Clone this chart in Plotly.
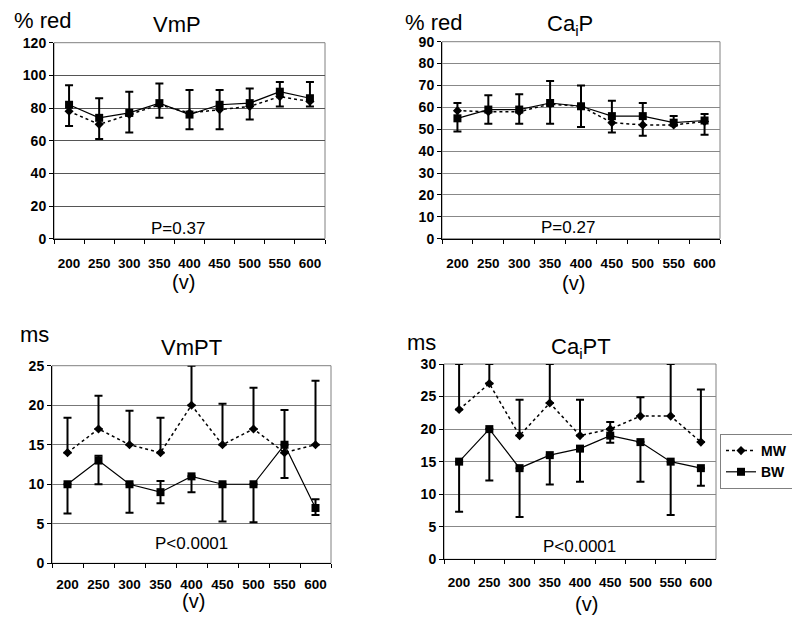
import plotly.graph_objects as go

volts = ["200", "250", "300", "350", "400", "450", "500", "550", "600"]

# Panel 1: VmP (% red)
vmp_mw = [78, 70, 76, 82, 77, 79, 81, 87, 84]
vmp_bw = [82, 74, 77, 83, 76, 82, 83, 90, 86]
vmp_hi = [94, 86, 90, 95, 91, 91, 92, 96, 96]
vmp_lo = [69, 61, 65, 74, 67, 67, 73, 81, 81]

# Panel 2: CaiP (% red)
caip_mw = [58.5, 58, 58, 61.5, 60.5, 53, 52, 52, 53.5]
caip_bw = [55, 59, 59, 62, 60.5, 56, 56, 53, 54]
caip_hi = [62, 65.5, 66, 72, 70, 63, 62, 56, 57]
caip_lo = [49, 52.5, 52.5, 52.5, 51, 48.5, 47, 52, 47.5]

# Panel 3: VmPT (ms)
vmpt_mw = [14, 17, 15, 14, 20, 15, 17, 14, 15]
vmpt_mw_hi = [18.4, 21.2, 19.3, 18.4, 25, 20.2, 22.2, 19.4, 23.1]
vmpt_bw = [10, 13, 10, 9, 11, 10, 10, 15, 7]
vmpt_bw_hi = [10, 13.6, 10, 10.4, 11, 10, 10, 15, 8.1]
vmpt_bw_lo = [6.3, 10, 6.4, 7.6, 9, 5.3, 5.2, 10.8, 6.1]

# Panel 4: CaiPT (ms)
caipt_mw = [23, 27, 19, 24, 19, 20, 22, 22, 18]
caipt_mw_hi = [30, 30, 24.5, 30, 24.5, 21.1, 24.9, 30, 26.1]
caipt_bw = [15, 20, 14, 16, 17, 19, 18, 15, 14]
caipt_bw_lo = [7.3, 12.1, 6.5, 11.5, 11.9, 17.9, 11.9, 6.8, 11.3]

FONT = "Liberation Sans, Arial, sans-serif"
# page body has an 8px margin: figure sized so it fits the 800x626 window
OFF = 8
W, H = 800 - 2 * OFF, 626 - 2 * OFF

def fx(px):
    return (px - OFF) / W

def fy(py):
    return 1 - (py - OFF) / H

panels = [
    dict(x=(54, 325), y=(42.7, 238.7), ymax=120, dtick=20, standoff=12, grid="#555555"),
    dict(x=(442, 720), y=(41.7, 238.7), ymax=90, dtick=10, standoff=12, grid="#888888"),
    dict(x=(52, 331), y=(365.7, 563.3), ymax=25, dtick=5, standoff=8, grid="#777777"),
    dict(x=(444, 716), y=(364, 559.3), ymax=30, dtick=5, standoff=10, grid="#888888"),
]

def diff(a, b):
    return [max(x - y, 0) for x, y in zip(a, b)]

series = [
    dict(mw=vmp_mw, bw=vmp_bw, mw_plus=None,
         bw_plus=diff(vmp_hi, vmp_bw), bw_minus=diff(vmp_bw, vmp_lo)),
    dict(mw=caip_mw, bw=caip_bw, mw_plus=None,
         bw_plus=diff(caip_hi, caip_bw), bw_minus=diff(caip_bw, caip_lo)),
    dict(mw=vmpt_mw, bw=vmpt_bw, mw_plus=diff(vmpt_mw_hi, vmpt_mw),
         bw_plus=diff(vmpt_bw_hi, vmpt_bw), bw_minus=diff(vmpt_bw, vmpt_bw_lo)),
    dict(mw=caipt_mw, bw=caipt_bw, mw_plus=diff(caipt_mw_hi, caipt_mw),
         bw_plus=None, bw_minus=diff(caipt_bw, caipt_bw_lo)),
]

fig = go.Figure()
layout = dict(
    width=W, height=H,
    margin=dict(l=0, r=0, t=0, b=0, autoexpand=False),
    paper_bgcolor="white", plot_bgcolor="white",
    font=dict(family=FONT, color="black"),
    showlegend=True,
    legend=dict(x=fx(720), y=fy(434), xanchor="left", yanchor="top",
                bordercolor="#808080", borderwidth=1, bgcolor="white",
                font=dict(size=14, family=FONT, weight="bold"),
                tracegroupgap=0, itemwidth=30),
)

shapes = []
for i, (p, s) in enumerate(zip(panels, series)):
    n = "" if i == 0 else str(i + 1)
    xa, ya = "x" + n, "y" + n
    layout["xaxis" + n] = dict(
        domain=[fx(p["x"][0]), fx(p["x"][1])], anchor=ya,
        type="category", range=[-0.5, 8.5],
        showgrid=False, showline=True, linecolor="black", linewidth=1,
        ticks="outside", tickson="boundaries", ticklen=4, tickcolor="black",
        tickangle=0,
        tickfont=dict(size=13.5, family=FONT, weight="bold"),
        ticklabelstandoff=p["standoff"], zeroline=False,
    )
    layout["yaxis" + n] = dict(
        domain=[fy(p["y"][1]), fy(p["y"][0])], anchor=xa,
        range=[0, p["ymax"]], dtick=p["dtick"],
        showgrid=True, gridcolor=p["grid"], gridwidth=1,
        showline=True, linecolor="black", linewidth=1,
        ticks="outside", ticklen=4, tickcolor="black",
        tickfont=dict(size=14, family=FONT, weight="bold"),
        zeroline=False,
    )
    shapes.append(dict(type="rect", xref="paper", yref="paper",
                       x0=fx(p["x"][0]), x1=fx(p["x"][1]),
                       y0=fy(p["y"][1]), y1=fy(p["y"][0]),
                       line=dict(color="#808080", width=1), layer="below"))

    mw_err = None
    if s["mw_plus"] is not None:
        mw_err = dict(type="data", symmetric=False, array=s["mw_plus"],
                      arrayminus=[0] * 9, color="black", thickness=2, width=4)
    bw_err = dict(type="data", symmetric=False,
                  array=s["bw_plus"] if s["bw_plus"] is not None else [0] * 9,
                  arrayminus=s["bw_minus"], color="black", thickness=2, width=4)

    fig.add_trace(go.Scatter(
        x=volts, y=s["mw"], xaxis=xa, yaxis=ya, name="MW",
        mode="lines+markers", showlegend=(i == 3), legendrank=1,
        line=dict(color="black", width=1.5, dash="dot"),
        marker=dict(symbol="diamond", size=7, color="black"),
        error_y=mw_err, cliponaxis=False,
    ))
    fig.add_trace(go.Scatter(
        x=volts, y=s["bw"], xaxis=xa, yaxis=ya, name="BW",
        mode="lines+markers", showlegend=(i == 3), legendrank=2,
        line=dict(color="black", width=1.2),
        marker=dict(symbol="square", size=8, color="black"),
        error_y=bw_err, cliponaxis=False,
    ))

layout["shapes"] = shapes

def ann(text, x, y, size, xanchor="center"):
    return dict(text=text, x=fx(x), y=fy(y), xref="paper", yref="paper",
                showarrow=False, xanchor=xanchor, yanchor="middle",
                font=dict(size=size, family=FONT, color="black"))

annotations = [
    ann("% red", 12, 21, 22, "left"),
    ann("VmP", 177, 24, 22),
    ann("P=0.37", 178, 229, 17),
    ann("(v)", 183, 282, 20),
    ann("% red", 403, 22, 22, "left"),
    ann("Ca<sub>i</sub>P", 570, 25, 22),
    ann("P=0.27", 568, 228, 17),
    ann("(v)", 573, 283, 20),
    ann("ms", 34, 334, 22),
    ann("VmPT", 191, 348, 22),
    ann("P<0.0001", 191, 543, 17),
    ann("(v)", 193, 601, 20),
    ann("ms", 422, 342, 22),
    ann("Ca<sub>i</sub>PT", 581, 348, 22),
    ann("P<0.0001", 579, 546, 17),
    ann("(v)", 586, 604, 20),
]
layout["annotations"] = annotations

fig.update_layout(**layout)
fig.write_html("out.html")
